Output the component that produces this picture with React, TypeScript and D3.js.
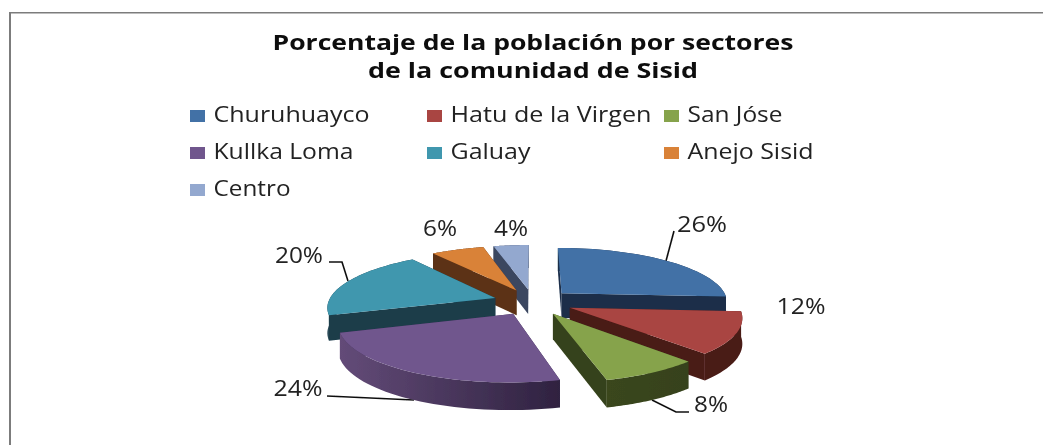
import React from 'react';
import * as d3 from 'd3';

const W = 1043;
const H = 445;

const titleLines = ['Porcentaje de la población por sectores', 'de la comunidad de Sisid'];
const categories = ['Churuhuayco', 'Hatu de la Virgen', 'San Jóse', 'Kullka Loma', 'Galuay', 'Anejo Sisid', 'Centro'];
const values = [26, 12, 8, 24, 20, 6, 4];
const labels = ['26%', '12%', '8%', '24%', '20%', '6%', '4%'];

const topColors = ['#4271a6', '#a94542', '#86a34c', '#70568d', '#4097ae', '#d98239', '#93a8cf'];
const wallColors = ['#1b2f4a', '#4a1a17', '#36421b', '#3b2c50', '#1a3c4a', '#5b3216', '#3b4660'];
const arcLight = ['#1b2f4a', '#4a1a17', '#3a461c', '#634b78', '#1a3c4a', '#5b3216', '#3b4660'];
const arcDark = ['#1b2f4a', '#4a1a17', '#36421b', '#2f2240', '#1a3c4a', '#5b3216', '#3b4660'];

// painter's order, back to front
const drawOrder = [6, 5, 4, 0, 1, 3, 2];

// the original text is stretched, so widths are forced
const titleWidths = [521, 330];
const legendWidths = [156, 201, 95, 140, 80, 126, 77];
const labelWidths = [50, 49, 34, 49, 48, 34, 34];

const legendX = d3.scaleOrdinal<number, number>().domain([0, 1, 2]).range([190, 427, 664]);
const legendY = d3.scalePoint<number>().domain([0, 1, 2]).range([116, 190]);

// 3d pie projection
const cx = 533;
const cy = 302;
const R = 167;
const Ry = 54.5;
const persp = 0.149;
const explode = 0.24;
const depth = 25;

type P = [number, number];
const scaleAt = (y: number) => 1 / (1 + persp * y);
const project = (x: number, y: number): P => {
  const s = scaleAt(y);
  return [cx + R * x * s, cy - Ry * y * s];
};
const down = (x: number, y: number): P => {
  const p = project(x, y);
  return [p[0], p[1] + depth * Math.sqrt(scaleAt(y))];
};

const arcs = d3.pie<number>().sort(null).value((d) => d).startAngle(0).endAngle(2 * Math.PI)(values);
const line = d3.line();

const slices = arcs.map((a) => {
  const mid = (a.startAngle + a.endAngle) / 2;
  const ox = explode * Math.sin(mid);
  const oy = explode * Math.cos(mid);
  const steps = d3.range(0, 41).map((i) => a.startAngle + ((a.endAngle - a.startAngle) * i) / 40);
  const rim = steps.map((t) => [ox + Math.sin(t), oy + Math.cos(t)] as P);
  const topPath = line([project(ox, oy), ...rim.map((p) => project(p[0], p[1]))]) + 'Z';
  const quad = (u: P, v: P) =>
    line([project(u[0], u[1]), project(v[0], v[1]), down(v[0], v[1]), down(u[0], u[1])]) + 'Z';
  const first = rim[0];
  const last = rim[rim.length - 1];
  const rimWall =
    line([...rim.map((p) => project(p[0], p[1])), ...rim.slice().reverse().map((p) => down(p[0], p[1]))]) + 'Z';
  const walls = [
    { d: quad([ox, oy], first), y: (oy + first[1]) / 2, rim: false },
    { d: quad([ox, oy], last), y: (oy + last[1]) / 2, rim: false },
    { d: rimWall, y: d3.mean(rim, (p) => p[1]) as number, rim: true },
  ].sort((p, q) => q.y - p.y);
  return { topPath, walls };
});

// leader lines: from label to slice rim
const leaders: { i: number; pts: P[] }[] = [
  { i: 0, pts: [[674, 231], [666, 261]] },
  { i: 2, pts: [[689, 412], [676, 412], [652, 400]] },
  { i: 3, pts: [[327, 396], [414, 400]] },
  { i: 4, pts: [[329, 262], [342, 262], [348, 281]] },
];
const labelPos: P[] = [[702, 232], [801, 314], [711, 412], [298, 396], [299, 263], [440, 236], [511, 236]];

const App = () => (
  <svg width={W} height={H} style={{ position: 'absolute', left: 0, top: 0 }} fontFamily="'Open Sans'">
    <defs>
      <filter id="soft" x="0" y="0" width="100%" height="100%">
        <feGaussianBlur stdDeviation="0.45" />
      </filter>
      {arcLight.map((c, i) => (
        <linearGradient key={i} id={`rim${i}`} x1="0" x2="1" y1="0" y2="0">
          <stop offset="0" stopColor={c} />
          <stop offset="1" stopColor={arcDark[i]} />
        </linearGradient>
      ))}
    </defs>
    <rect width={W} height={H} fill="#fff" />
    <g filter="url(#soft)">
      <path d="M9.5,445V12H1043" fill="none" stroke="#7c7c7c" strokeWidth={3} />

      {titleLines.map((t, i) => (
        <text
          key={t}
          x={533}
          y={50 + i * 28}
          textAnchor="middle"
          fontWeight="bold"
          fontSize={22}
          fill="#111"
          textLength={titleWidths[i]}
          lengthAdjust="spacingAndGlyphs"
        >
          {t}
        </text>
      ))}

      {categories.map((c, i) => {
        const x = legendX(i % 3);
        const y = legendY(Math.floor(i / 3)) as number;
        return (
          <g key={c}>
            <rect x={x} y={y - 6} width={15} height={12} fill={topColors[i]} />
            <text
              x={x + 23.5}
              y={y + 6}
              fontSize={21}
              fill="#222"
              textLength={legendWidths[i]}
              lengthAdjust="spacingAndGlyphs"
            >
              {c}
            </text>
          </g>
        );
      })}

      {leaders.map((l) => (
        <path key={l.i} d={line(l.pts) as string} fill="none" stroke="#111" strokeWidth={1.6} />
      ))}

      {drawOrder.map((i) => (
        <g key={i}>
          {slices[i].walls.map((w, j) => (
            <path key={j} d={w.d} fill={w.rim ? `url(#rim${i})` : wallColors[i]} />
          ))}
          <path d={slices[i].topPath} fill={topColors[i]} />
        </g>
      ))}

      {labels.map((t, i) => (
        <text
          key={t}
          x={labelPos[i][0]}
          y={labelPos[i][1]}
          textAnchor="middle"
          fontSize={21}
          fill="#222"
          textLength={labelWidths[i]}
          lengthAdjust="spacingAndGlyphs"
        >
          {t}
        </text>
      ))}
    </g>
  </svg>
);

export default App;
